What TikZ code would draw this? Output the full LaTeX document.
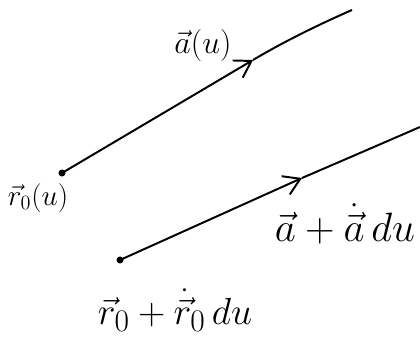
\documentclass[tikz,border=0pt]{standalone}
\usepackage{amsmath}
\usepackage{amssymb}
\usepackage{tikz}
\usetikzlibrary{arrows.meta}

\begin{document}
\begin{tikzpicture}[x=0.025cm,y=-0.025cm,line width=1.4pt,
  >={Straight Barb[length=4mm,width=5mm]}]
\useasboundingbox (0,0) rectangle (420,340);
\coordinate (r0) at (62,173);
\coordinate (a1) at (253,60);
\coordinate (e1) at (352,10);
\coordinate (r1) at (120,260);
\coordinate (a2) at (302,178);
\coordinate (e2) at (420,127);
\draw[->] (r0) -- (a1);
\draw (a1) .. controls (285,41) and (320,24) .. (e1);
\draw[->] (r1) -- (a2);
\draw (a2) .. controls (360,153) .. (e2);
\fill (r0) circle (2.5pt);
\fill (r1) circle (2.5pt);
\node[font=\huge] (lr0) at (38,198) {$\vec r_0(u)$};
\node[font=\huge,scale=1.1] (la) at (203,45) {$\vec a(u)$};
\node[font=\Huge,scale=1.17] (lda) at (345,224) {$\vec a+\dot{\vec a}\,du$};
\node[font=\Huge,scale=1.08] (ldr) at (175,310) {$\vec r_0+\dot{\vec r}_0\,du$};
\end{tikzpicture}
\end{document}
